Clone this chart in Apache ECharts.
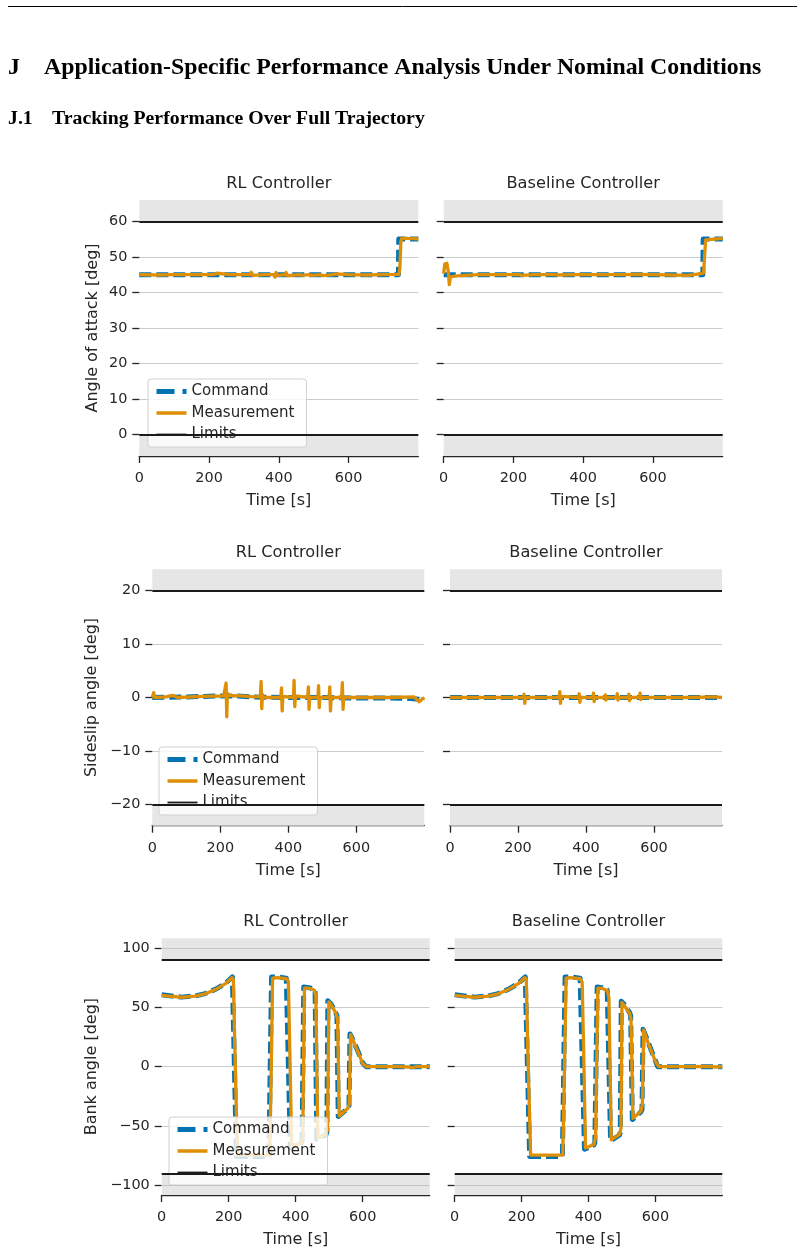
<!DOCTYPE html>
<html>
<head>
<meta charset="utf-8">
<title>Tracking Performance Over Full Trajectory</title>
<script src="https://cdn.jsdelivr.net/npm/echarts@6/dist/echarts.min.js"></script>
<style>
  html, body { margin: 0; padding: 0; background: #fff; }
  #chart { width: 805px; height: 1253px; }
</style>
</head>
<body>
<div id="chart"></div>
<script>
// ---- angle of attack ----
const aoaCmdT = [0, 743, 744, 800];
const aoaCmdV = [45, 45, 55, 55];
const aoaRlT = [0, 50, 100, 150, 200, 216, 219, 222, 226, 260, 300, 318, 321, 324, 328, 360, 386, 389, 392, 396, 400, 418, 421, 424, 428, 460, 463, 466, 488, 491, 494, 520, 523, 526, 530, 556, 559, 562, 600, 650, 700, 744, 747, 750, 753, 770, 800];
const aoaRlV = [45.0, 44.9, 45.0, 45.0, 45.0, 45.1, 44.6, 45.4, 44.9, 45.0, 45.0, 45.0, 45.7, 44.8, 45.1, 45.0, 45.0, 44.3, 45.6, 44.8, 45.1, 45.0, 45.6, 44.7, 45.0, 45.0, 45.4, 44.8, 45.0, 45.4, 44.8, 45.0, 45.4, 44.7, 45.0, 45.0, 44.6, 45.2, 45.0, 44.9, 45.0, 45.1, 46.5, 54.3, 55.3, 55.2, 55.1];
const aoaBlT = [0, 3, 9, 13, 16, 19, 30, 60, 100, 160, 218, 221, 224, 260, 320, 323, 326, 380, 420, 423, 440, 500, 560, 600, 650, 700, 738, 745, 748, 751, 756, 800];
const aoaBlV = [45.3, 48.0, 48.2, 46.0, 42.2, 44.3, 44.6, 44.8, 45.0, 45.0, 45.0, 45.4, 44.8, 45.0, 45.0, 45.3, 44.9, 45.0, 45.0, 45.2, 45.0, 45.0, 45.1, 45.0, 44.9, 44.8, 45.3, 45.5, 50.0, 54.8, 55.2, 55.2];

// ---- sideslip ----
const betaRlCmdT = [0, 100, 150, 200, 240, 300, 400, 500, 600, 700, 760, 800];
const betaRlCmdV = [0, 0.1, 0.2, 0.3, 0.3, 0.1, 0, 0, -0.1, -0.1, -0.2, -0.4];
const betaRlT = [0, 4, 8, 40, 60, 75, 150, 210, 215, 217, 219, 221, 226, 260, 300, 318, 320, 322, 324, 328, 378, 380, 382, 384, 415, 417, 419, 421, 457, 459, 461, 463, 487, 489, 491, 493, 520, 522, 524, 526, 557, 559, 561, 563, 600, 700, 770, 774, 785, 800];
const betaRlV = [0, 0.9, 0, 0.1, 0.4, 0, 0.2, 0.3, 0.6, 2.7, -3.6, 0.8, 0.4, 0.3, 0.1, 0.2, 3.0, -2.1, 0.6, 0, 0, 1.8, -2.5, 0.2, 0, 3.2, -1.7, 0.3, 0, 2.0, -2.2, 0, 0, 2.2, -1.9, 0, 0, 2.0, -2.5, 0, 0, 2.8, -2.2, 0, 0, 0, 0.1, 0.3, -0.8, 0];
const betaBlCmdT = [0, 400, 800];
const betaBlCmdV = [0, 0, 0];
const betaBlT = [0, 100, 216, 218, 220, 222, 321, 323, 325, 327, 378, 380, 382, 384, 420, 422, 424, 426, 455, 457, 459, 461, 490, 492, 494, 496, 524, 526, 528, 530, 557, 559, 561, 563, 700, 780, 800];
const betaBlV = [0, 0, 0, 0.6, -1.1, 0, 0, 1.1, -1.1, 0.2, 0, 0.7, -0.9, 0, 0, 0.8, -0.75, 0, 0, 0.5, -0.5, 0, 0, 0.7, -0.5, 0, 0, 0.6, -0.6, 0, 0, 0.8, -0.4, 0, 0, 0.1, 0];

// ---- bank angle ----
const bankRlCmdT = [0, 30, 60, 100, 130, 160, 190, 211, 214, 223, 320, 323, 328, 345, 372, 377, 384, 416, 419, 424, 440, 455, 458, 463, 490, 493, 496, 505, 520, 523, 527, 556, 559, 562, 575, 590, 600, 610, 700, 745, 760, 800];
const bankRlCmdV = [60.5, 59.5, 58.5, 59.5, 61.5, 65, 70, 75.5, 74, -75.5, -75.5, -74, 75.5, 75.5, 74.5, 73, -68, -64.5, -62, 67, 66.5, 65, 63, -61, -57.5, -55, 55.5, 53, 45, 43, -42, -35, -33, 27.5, 20, 10, 3, 0, 0, 0, 0, 0];
const bankRlT = [0, 30, 60, 100, 130, 160, 190, 210, 214, 218, 226, 322, 326, 331, 345, 372, 378, 382, 388, 416, 421, 426, 440, 455, 460, 466, 490, 495, 499, 505, 520, 525, 530, 556, 560, 564, 575, 590, 600, 612, 700, 740, 748, 760, 800];
const bankRlV = [60, 59.2, 58.4, 59.3, 61.3, 64.8, 69.8, 75, 73, 20, -74.5, -74.5, -20, 74.5, 75, 74, 72, 20, -67.5, -64, -60, 66, 66, 64.5, 60, -60, -57, -53, 54.5, 52.5, 45, 40, -41.5, -35, -31, 27, 19.5, 9.5, 2.5, 0, 0, -0.3, -0.9, 0, 0];
const bankBlCmdT = [0, 30, 60, 100, 130, 160, 190, 211, 214, 224, 322, 325, 330, 345, 375, 380, 388, 416, 419, 426, 440, 456, 460, 466, 493, 495, 498, 505, 523, 526, 531, 557, 560, 563, 575, 590, 600, 607, 700, 760, 800];
const bankBlCmdV = [60.5, 59.5, 58.5, 59.5, 61.5, 65, 70, 75.5, 74, -75.5, -75.5, -74, 75.5, 75.5, 74.5, 73, -69.5, -66, -64, 67, 66.5, 64.5, 63, -62.5, -57.5, -55, 55, 53, 45.5, 43, -44.5, -38, -36, 31.5, 23, 12, 5, 0, 0, 0, 0];
const bankBlT = [0, 30, 60, 100, 130, 160, 190, 210, 214, 218, 227, 323, 327, 333, 345, 375, 381, 385, 391, 416, 421, 428, 440, 456, 461, 468, 493, 497, 500, 505, 523, 527, 533, 557, 561, 565, 575, 590, 600, 610, 700, 760, 780, 800];
const bankBlV = [60, 59.2, 58.4, 59.3, 61.3, 64.8, 69.8, 75, 73, 20, -74.5, -74.5, -20, 74.5, 75, 74, 71, 20, -68.5, -65.5, -60, 66, 66, 64, 58, -61.5, -57, -52, 54, 52.5, 45, 40, -43.5, -37.5, -32, 31, 22.5, 11.5, 4.5, 0, 0, 0.3, -0.3, 0];

// ---- axes ----
const timeTicks = [0, 200, 400, 600];
const aoaTicks = [0, 10, 20, 30, 40, 50, 60];
const betaTicks = [-20, -10, 0, 10, 20];
const bankTicks = [-100, -50, 0, 50, 100];
const panelTitles = ['RL Controller', 'Baseline Controller'];

const BLUE = '#0173B2', ORANGE = '#DE8F05', INK = '#262626', LIMIT = '#1a1a1a';
const FONT = 'DejaVu Sans';

function pts(t, v) { return t.map((x, i) => [x, v[i]]); }
const minus = v => String(v).replace('-', '\u2212');

const legendNames = [
  { name: 'Command', itemStyle: { opacity: 0 }, lineStyle: { color: BLUE, width: 5, type: [18, 8] } },
  { name: 'Measurement', itemStyle: { opacity: 0 }, lineStyle: { color: ORANGE, width: 3.5, type: 'solid' } },
  { name: 'Limits', itemStyle: { opacity: 0 }, lineStyle: { color: LIMIT, width: 1.8, type: 'solid' } }
];

const rows = [
  { top: 200, height: 256, left: [139.3, 443.7], width: [279, 279], titleY: 175.5,
    yName: 'Angle of attack [deg]', nameGap: 38.5, range: [-6, 66], limits: [0, 60], ticks: aoaTicks, extra: [],
    legend: { left: 148, top: 379 },
    data: [[aoaCmdT, aoaCmdV, aoaRlT, aoaRlV], [aoaCmdT, aoaCmdV, aoaBlT, aoaBlV]] },
  { top: 569.3, height: 256.4, left: [152.3, 450], width: [272, 272], titleY: 544.5,
    yName: 'Sideslip angle [deg]', nameGap: 52.5, range: [-24, 24], limits: [-20, 20], ticks: betaTicks, extra: [],
    legend: { left: 159, top: 747 },
    data: [[betaRlCmdT, betaRlCmdV, betaRlT, betaRlV], [betaBlCmdT, betaBlCmdV, betaBlT, betaBlV]] },
  { top: 938.3, height: 256.7, left: [161.7, 454.7], width: [268, 267.6], titleY: 913.5,
    yName: 'Bank angle [deg]', nameGap: 62, range: [-108, 108], limits: [-90, 90], ticks: bankTicks, extra: [-100, 100],
    legend: { left: 169, top: 1117 },
    data: [[bankRlCmdT, bankRlCmdV, bankRlT, bankRlV], [bankBlCmdT, bankBlCmdV, bankBlT, bankBlV]] }
];

const grid = [], xAxis = [], yAxis = [], series = [], legend = [], title = [], graphic = [];

const serif = (size, text, x, y) => ({ type: 'text', x, y,
  style: { text, fontSize: size, fontWeight: 'bold', fontFamily: 'Liberation Serif', fill: '#000', verticalAlign: 'middle' } });
graphic.push(
  { type: 'line', shape: { x1: 8, y1: 6.5, x2: 797, y2: 6.5 }, style: { stroke: '#000', lineWidth: 1 } },
  serif(23.8, 'J', 8, 68),
  serif(23.8, 'Application-Specific Performance Analysis Under Nominal Conditions', 44, 68),
  serif(19.8, 'J.1', 8, 119),
  serif(19.8, 'Tracking Performance Over Full Trajectory', 52, 119)
);

rows.forEach((row, r) => {
  [0, 1].forEach(c => {
    const idx = grid.length;
    const d = row.data[c];
    grid.push({ left: row.left[c], top: row.top, width: row.width[c], height: row.height, containLabel: false });
    title.push({ text: panelTitles[c], left: row.left[c] + row.width[c] / 2, top: row.titleY,
      textAlign: 'center', padding: 0,
      textStyle: { fontSize: 16.2, fontWeight: 'normal', fontFamily: FONT, color: INK } });

    xAxis.push({
      gridIndex: idx, type: 'value', min: 0, max: 800,
      name: 'Time [s]', nameLocation: 'middle', nameGap: 37,
      nameTextStyle: { fontSize: 16, fontFamily: FONT, color: INK },
      axisLine: { show: true, onZero: false, lineStyle: { color: INK, width: 1.3 } },
      axisTick: { show: true, length: 7, customValues: timeTicks, lineStyle: { color: INK, width: 1.3 } },
      axisLabel: { customValues: timeTicks, fontSize: 14.4, fontFamily: FONT, color: INK, margin: 15.5 },
      splitLine: { show: false }
    });
    yAxis.push({
      gridIndex: idx, type: 'value', min: row.range[0], max: row.range[1],
      name: c === 0 ? row.yName : '', nameLocation: 'middle', nameGap: row.nameGap,
      nameTextStyle: { fontSize: 16, fontFamily: FONT, color: INK },
      axisLine: { show: false },
      axisTick: { show: true, length: 7, customValues: row.ticks, lineStyle: { color: INK, width: 1.3 } },
      axisLabel: { show: c === 0, customValues: row.ticks, fontSize: 14.4, fontFamily: FONT, color: INK, margin: 12, formatter: minus },
      splitLine: { show: true, lineStyle: { color: '#cccccc', width: 1 } }
    });

    const extraLines = row.extra.map(v => ({ yAxis: v, lineStyle: { color: '#c4c4c4', width: 1, type: 'solid' } }));
    series.push({
      name: 'Limits', type: 'line', xAxisIndex: idx, yAxisIndex: idx, data: [],
      showSymbol: false, symbol: 'none', silent: true,
      lineStyle: { color: LIMIT, width: 1.8 },
      itemStyle: { color: LIMIT },
      markArea: { silent: true, itemStyle: { color: '#e6e6e6' },
        data: [[{ yAxis: row.limits[1] }, { yAxis: row.range[1] }], [{ yAxis: row.range[0] }, { yAxis: row.limits[0] }]] },
      markLine: { silent: true, symbol: 'none', label: { show: false },
        lineStyle: { color: LIMIT, width: 2, type: 'solid' },
        data: extraLines.concat([{ yAxis: row.limits[0] }, { yAxis: row.limits[1] }]) }
    });
    series.push({
      name: 'Command', type: 'line', xAxisIndex: idx, yAxisIndex: idx,
      data: pts(d[0], d[1]), showSymbol: false, symbol: 'none', silent: true,
      lineStyle: { color: BLUE, width: 5, type: [12, 5], join: 'round' },
      itemStyle: { color: BLUE }
    });
    series.push({
      name: 'Measurement', type: 'line', xAxisIndex: idx, yAxisIndex: idx,
      data: pts(d[2], d[3]), showSymbol: false, symbol: 'none', silent: true,
      lineStyle: { color: ORANGE, width: 3.3, join: 'round' },
      itemStyle: { color: ORANGE }
    });
  });

  legend.push({
    left: row.legend.left, top: row.legend.top, orient: 'vertical',
    data: legendNames, selectedMode: false,
    itemWidth: 30, itemHeight: 14, itemGap: 6.5,
    padding: [5, 12, 5, 6],
    itemStyle: { opacity: 0 },
    backgroundColor: 'rgba(255,255,255,0.8)', borderColor: '#d0d0d0', borderWidth: 1, borderRadius: 3,
    textStyle: { fontSize: 15, fontFamily: FONT, color: INK }
  });
});

const chart = echarts.init(document.getElementById('chart'));
chart.setOption({
  animation: false,
  backgroundColor: '#ffffff',
  title, grid, xAxis, yAxis, series, legend, graphic
});
</script>
</body>
</html>
